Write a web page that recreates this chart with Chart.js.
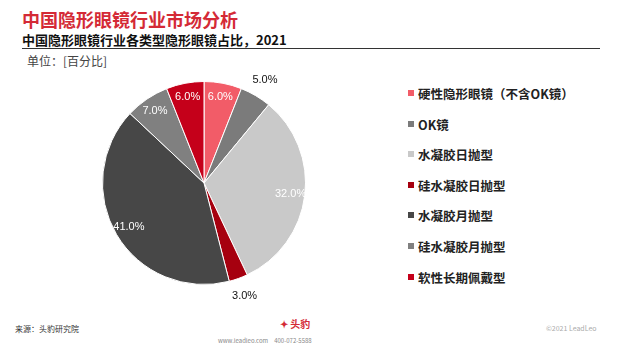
<!DOCTYPE html>
<html>
<head>
<meta charset="utf-8">
<script src="https://cdn.jsdelivr.net/npm/chart.js@4"></script>
<style>
  body { margin: 0; width: 625px; height: 351px; background: #fff; position: relative; overflow: hidden;
         font-family: "Noto Sans CJK SC", "Noto Sans", sans-serif; }
  .title { position: absolute; left: 22px; top: 6px; font-size: 18px; font-weight: bold; color: #d42a36; }
  .subtitle { position: absolute; left: 22px; top: 30px; font-size: 13px; font-weight: bold; color: #111; }
  .rule { position: absolute; left: 22px; top: 48px; width: 578px; height: 1px; background: #333; }
  .unit { position: absolute; left: 27px; top: 52px; font-size: 12px; color: #444; }
  #wrap { position: absolute; left: 0; top: 60px; width: 408px; height: 246px; }
  #legend { position: absolute; left: 408px; top: 84px; margin: 0; padding: 0; list-style: none; }
  #legend li { height: 30.6px; font-size: 12.5px; font-weight: bold; color: #222; display: flex; align-items: flex-start; }
  #legend span.box { display: inline-block; width: 6px; height: 6px; margin: 6px 4px 0 0; }
  .src { position: absolute; left: 15px; top: 323px; font-size: 8px; color: #333; }
  .copy { position: absolute; left: 546px; top: 323px; font-size: 7px; color: #aaa; }
  .logo { position: absolute; left: 280px; top: 316px; font-size: 10px; font-weight: bold; color: #d42a36; }
  .contact { position: absolute; left: 218px; top: 336px; font-size: 6px; color: #888; }
</style>
</head>
<body>
<div class="title">中国隐形眼镜行业市场分析</div>
<div class="subtitle">中国隐形眼镜行业各类型隐形眼镜占比，2021</div>
<div class="rule"></div>
<div class="unit">单位：[百分比]</div>
<div id="wrap"><canvas id="pie"></canvas></div>
<ul id="legend"></ul>
<div class="src">来源：头豹研究院</div>
<div class="logo">✦ 头豹</div>
<div class="contact">www.leadleo.com　400-072-5588</div>
<div class="copy">©2021 LeadLeo</div>
<script>
// 数据
const categories = ['硬性隐形眼镜（不含OK镜）', 'OK镜', '水凝胶日抛型', '硅水凝胶日抛型', '水凝胶月抛型', '硅水凝胶月抛型', '软性长期佩戴型'];
const shares = [6.0, 5.0, 32.0, 3.0, 41.0, 7.0, 6.0];
const colors = ['#f25c68', '#7b7b7b', '#c9c9c9', '#a6000f', '#474747', '#808080', '#c5001a'];
const outsideLabels = [false, true, false, true, false, false, false];

// legenda em HTML
const legendEl = document.getElementById('legend');
categories.forEach((name, i) => {
    const li = document.createElement('li');
    li.innerHTML = '<span class="box" style="background:' + colors[i] + '"></span>' + name;
    legendEl.appendChild(li);
});

// rótulos das fatias
const sliceLabels = {
    id: 'sliceLabels',
    afterDatasetsDraw(chart) {
        const ctx = chart.ctx;
        const meta = chart.getDatasetMeta(0);
        ctx.save();
        ctx.textAlign = 'center';
        ctx.textBaseline = 'middle';
        ctx.font = '11px "Liberation Sans", Arial, sans-serif';
        meta.data.forEach((arc, i) => {
            const mid = (arc.startAngle + arc.endAngle) / 2;
            const k = outsideLabels[i] ? 1.18 : 0.86;
            const r = arc.outerRadius * k;
            const x = arc.x + Math.cos(mid) * r;
            const y = arc.y + Math.sin(mid) * r;
            ctx.fillStyle = outsideLabels[i] ? '#111' : '#fff';
            ctx.fillText(shares[i].toFixed(1) + '%', x, y);
        });
        ctx.restore();
    }
};

new Chart(document.getElementById('pie'), {
    type: 'pie',
    data: {
        labels: categories,
        datasets: [{
            data: shares,
            backgroundColor: colors,
            borderColor: '#fff',
            borderWidth: 1
        }]
    },
    options: {
        responsive: true,
        maintainAspectRatio: false,
        animation: false,
        layout: { padding: { top: 21, bottom: 21 } },
        plugins: { legend: { display: false }, tooltip: { enabled: false } }
    },
    plugins: [sliceLabels]
});
</script>
</body>
</html>
